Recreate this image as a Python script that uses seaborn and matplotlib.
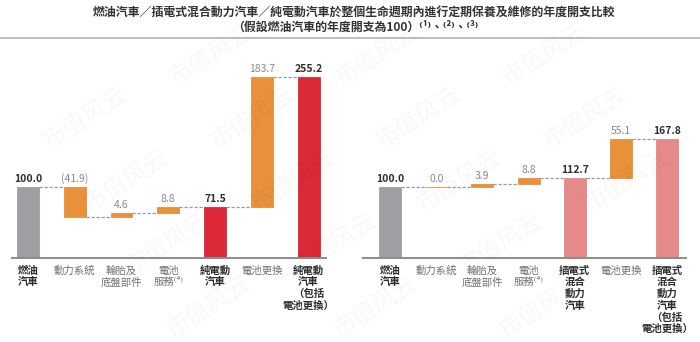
import numpy as np
import pandas as pd
import matplotlib
matplotlib.use("Agg")
import matplotlib.pyplot as plt
from matplotlib.lines import Line2D
import seaborn as sns

# ---- data -------------------------------------------------------------
title_line1 = "燃油汽車／插電式混合動力汽車／純電動汽車於整個生命週期內進行定期保養及維修的年度開支比較"
title_line2 = "（假設燃油汽車的年度開支為100）⁽¹⁾、⁽²⁾、⁽³⁾"

ev_categories = ["燃油\n汽車", "動力系統", "輪胎及\n底盤部件", "電池\n服務⁽⁴⁾",
                 "純電動\n汽車", "電池更換", "純電動\n汽車\n（包括\n電池更換）"]
ev_values = [100.0, -41.9, 4.6, 8.8, 71.5, 183.7, 255.2]
ev_kinds = ["total", "delta", "delta", "delta", "total", "delta", "total"]

phev_categories = ["燃油\n汽車", "動力系統", "輪胎及\n底盤部件", "電池\n服務⁽⁴⁾",
                   "插電式\n混合\n動力\n汽車", "電池更換",
                   "插電式\n混合\n動力\n汽車\n（包括\n電池更換）"]
phev_values = [100.0, 0.0, 3.9, 8.8, 112.7, 55.1, 167.8]
phev_kinds = ["total", "delta", "delta", "delta", "total", "delta", "total"]

watermark = "市值风云"

# ---- style ------------------------------------------------------------
sns.set_theme(style="white")
plt.rcParams["font.family"] = ["Noto Sans CJK TC", "DejaVu Sans"]

GREY = "#9e9fa2"
ORANGE = "#e8903a"
RED = "#db2938"
PINK = "#e5898b"
DARK = "#2e2e2e"
MUTED = "#8a8a8a"

W, H = 700, 342
fig = plt.figure(figsize=(W / 100, H / 100), dpi=100)
fig.patch.set_facecolor("white")


def waterfall(values, kinds):
    bottoms, heights, levels = [], [], []
    level = 0.0
    for v, k in zip(values, kinds):
        if k == "total":
            bottoms.append(0.0)
            heights.append(v)
            level = v
        else:
            start = level
            level = level + v
            bottoms.append(min(start, level))
            heights.append(abs(v))
        levels.append(level)
    return bottoms, heights, levels


def draw_panel(ax, categories, values, kinds, total_color, xlim, bar_width):
    bottoms, heights, levels = waterfall(values, kinds)
    df = pd.DataFrame({"category": categories, "height": heights})
    sns.barplot(data=df, x="category", y="height", order=categories,
                bottom=bottoms, width=bar_width, errorbar=None,
                color=ORANGE, saturation=1, ax=ax)

    colors = []
    for i, k in enumerate(kinds):
        if k == "total":
            colors.append(GREY if i == 0 else total_color)
        else:
            colors.append(ORANGE)
    for patch, c in zip(ax.patches, colors):
        patch.set_facecolor(c)
        patch.set_edgecolor(c)
        patch.set_linewidth(0.6)
        patch.set_zorder(3)

    # dashed connectors at the running level
    half = bar_width / 2
    for i in range(len(values) - 1):
        ax.plot([i + half, i + 1 - half], [levels[i], levels[i]],
                color="#9a9a9a", lw=0.9, ls=(0, (2.6, 1.4)), zorder=2)

    # value labels
    for i, (v, k) in enumerate(zip(values, kinds)):
        top = bottoms[i] + heights[i]
        if k == "total":
            txt, col, fw = f"{v:.1f}", DARK, "bold"
        else:
            txt = f"({abs(v):.1f})" if v < 0 else f"{v:.1f}"
            col, fw = MUTED, "normal"
        ax.annotate(txt, (i, top), xytext=(0, 2.2), textcoords="offset points",
                    ha="center", va="bottom", fontsize=7.5, color=col,
                    fontweight=fw, zorder=4)

    ax.set_xlim(*xlim)
    ax.set_ylim(0, 307)
    ax.set_xlabel("")
    ax.set_ylabel("")
    ax.set_yticks([])
    ax.set_facecolor("none")
    for side in ("top", "right", "left"):
        ax.spines[side].set_visible(False)
    ax.spines["bottom"].set_color("#8c8c8c")
    ax.spines["bottom"].set_linewidth(1.4)
    ax.spines["bottom"].set_zorder(5)

    ax.set_xticks(range(len(categories)))
    ax.set_xticklabels(categories, fontsize=7.5, linespacing=1.18)
    ax.tick_params(axis="x", length=0, pad=5.5)
    for lbl, k in zip(ax.get_xticklabels(), kinds):
        if k == "total":
            lbl.set_color(DARK)
            lbl.set_fontweight("bold")
        else:
            lbl.set_color("#707070")


ax_ev = fig.add_axes([12 / W, 84 / H, 314 / W, 218 / H])
draw_panel(ax_ev, ev_categories, ev_values, ev_kinds, RED,
           (-0.342, 6.374), 0.47)

ax_phev = fig.add_axes([363 / W, 84 / H, 323 / W, 218 / H])
draw_panel(ax_phev, phev_categories, phev_values, phev_kinds, PINK,
           (-0.585, 6.41), 0.476)

# ---- title and rule ---------------------------------------------------
fig.text(0.505, 1 - 12 / H, title_line1, ha="center", va="center",
         fontsize=8.6, fontweight="bold", color="#333333")
fig.text(0.508, 1 - 27 / H, title_line2, ha="center", va="center",
         fontsize=8.6, fontweight="bold", color="#333333")
fig.add_artist(Line2D([0, 1], [1 - 37.5 / H] * 2, color="#b4b4b4", lw=1.2))

# ---- faint tiled watermark (only copies that fit inside the canvas) ---
for cx in (-120, 45, 212, 378, 545, 712):
    for r in range(-1, 6):
        x = cx + 41 * r
        y = 55 + 63 * r
        if 45 < x < W - 45 and 35 < y < H - 32:
            fig.text(x / W, 1 - y / H, watermark, ha="center", va="center",
                     rotation=33, fontsize=17, color="#000000", alpha=0.03,
                     family=["Noto Sans CJK SC"], zorder=10)

fig.savefig("out.png", dpi=100)
